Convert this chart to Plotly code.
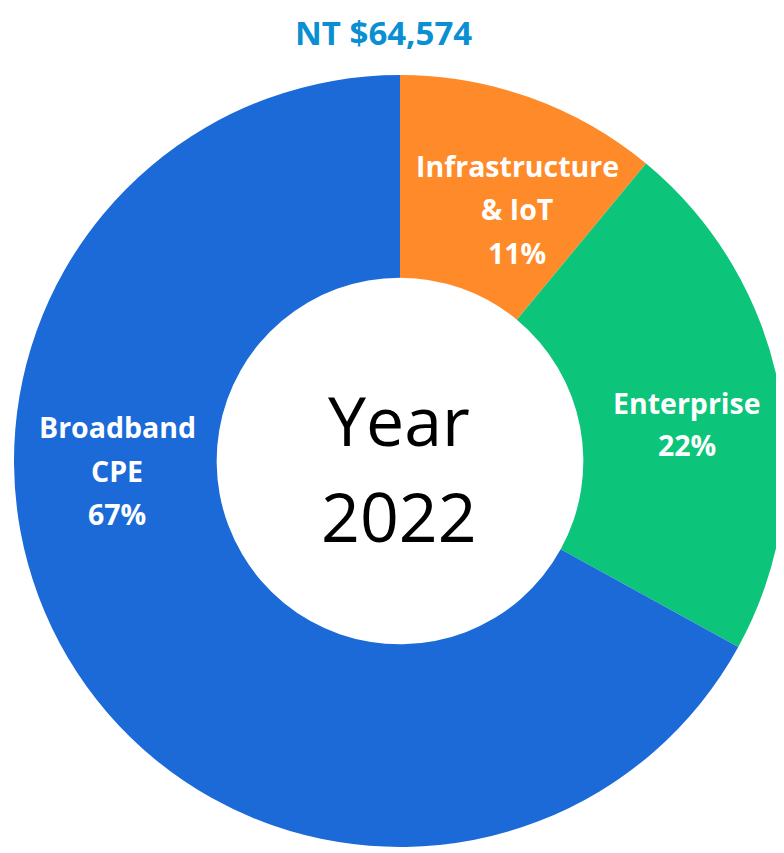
import plotly.graph_objects as go

# Data
segments = ["Infrastructure<br>& IoT", "Enterprise", "Broadband<br>CPE"]
shares = [11, 22, 67]
colors = ["#ff8a2a", "#0cc47a", "#1b6ad8"]
total_label = "NT $64,574"
center_lines = ["Year", "2022"]

W, H = 784, 853
OFF = 8  # page body margin compensation

fig = go.Figure(go.Pie(
    labels=[s.replace("<br>", " ") for s in segments],
    values=shares,
    sort=False,
    direction="clockwise",
    rotation=0,
    hole=0.475,
    marker=dict(colors=colors, line=dict(width=0)),
    textinfo="none",
    hoverinfo="label+percent",
    domain=dict(x=[6 / W, 778 / W], y=[14 / H, 786 / H]),
    showlegend=False,
))

annotations = []

def add_line(text, x_px, y_px, size, color, bold=True, family="Open Sans",
             yanchor="middle"):
    x_px -= OFF
    y_px -= OFF
    annotations.append(dict(
        text=f"<b>{text}</b>" if bold else text,
        x=x_px / W, y=min(1.0, 1 - y_px / H), xref="paper", yref="paper",
        xanchor="center", yanchor=yanchor, showarrow=False,
        font=dict(family=family, size=size, color=color),
    ))

# Slice labels (label lines followed by percent)
label_pos = [(517, 166, 43.5), (687, 403, 42), (117, 427, 43.5)]
for seg, val, (cx, cy, step) in zip(segments, shares, label_pos):
    lines = seg.split("<br>") + [f"{val}%"]
    for i, ln in enumerate(lines):
        add_line(ln, cx, cy + i * step, 28.5, "white")

# Center text
add_line(center_lines[0], 399, 419, 68, "black", bold=False)
add_line(center_lines[1], 399, 515, 68, "black", bold=False)

# Title (anchored to the top edge so it is not clipped)
add_line(total_label, 383, OFF, 33, "#0b8fd3", yanchor="top")

fig.update_layout(
    width=W, height=H,
    margin=dict(l=0, r=0, t=0, b=0),
    paper_bgcolor="white", plot_bgcolor="white",
    annotations=annotations,
)

fig.write_html("out.html")
